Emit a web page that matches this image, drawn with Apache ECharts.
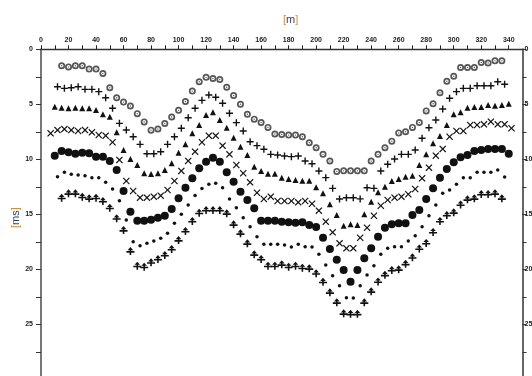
<!DOCTYPE html>
<html>
<head>
<meta charset="utf-8">
<script src="https://cdn.jsdelivr.net/npm/echarts@6/dist/echarts.min.js"></script>
<style>
html,body{margin:0;padding:0;background:#fff;}
#c{width:532px;height:376px;}
</style>
</head>
<body>
<div id="c"></div>
<script>
// Station positions [m]
var stationsA = [10,15,20,25,30,35,40,45,50,55,60,65,70,75,80,85,90,95,100,105,110,115,120,125,130,135,140,145,150,155,160,165,170,175,180,185,190,195,200,205,210,215,220,225,230,235,240,245,250,255,260,265,270,275,280,285,290,295,300,305,310,315,320,325,330,335,340];
var stationsB = [7,12,17,22,27,32,37,42,47,52,57,62,67,72,77,82,87,92,97,102,107,112,117,122,127,132,137,142,147,152,157,162,167,172,177,182,187,192,197,202,207,212,217,222,227,232,237,242,247,252,257,262,267,272,277,282,287,292,297,302,307,312,317,322,327,332,337,342];

// Travel times [ms] (on stationsA)
var ringCircles = [null,1.5,1.6,1.5,1.5,1.8,1.8,2.2,3.5,4.4, 4.8,5.15,5.85,6.6,7.35,7.25,6.75,6.15,5.55,4.75, 3.8,2.95,2.55,2.65,2.75,3.45,4.2,5.0,5.9,6.35, 6.65,7.1,7.7,7.75,7.8,7.8,7.95,8.5,8.95,9.55, 10.15,11.1,11.05,11.05,11.05,11.05,10.15,9.55,8.95,8.35, 7.6,7.5,7.1,6.65,5.6,4.95,3.95,2.9,2.45,1.65, 1.65,1.65,1.2,1.25,1.05,1.05,null];
var triangles = [5.22,5.31,5.36,5.31,5.36,5.36,5.52,5.91,6.13,7.55, 9.15,9.97,10.52,11.27,11.34,11.27,10.97,10.36,9.4,8.64, 7.64,6.88,5.97,5.73,6.43,7.13,8.04,8.85,9.61,10.67, 11.06,11.31,11.31,11.67,11.79,11.88,11.95,11.95,12.55,13.09, 14.09,15.06,16.04,15.9,15.97,15.0,13.85,13.0,12.49,11.97, 11.79,11.58,11.49,10.52,9.55,8.55,7.88,6.88,5.91,5.73, 5.31,5.25,5.25,5.07,5.13,5.07,4.94];
var dots = [9.67,9.25,9.36,9.49,9.4,9.45,9.76,9.76,10.15,10.97, 12.88,14.76,15.58,15.58,15.49,15.31,15.13,14.52,13.55,12.58, 11.73,10.82,10.22,9.85,10.22,11.18,12.04,12.95,13.7,14.45, 15.58,15.58,15.58,15.67,15.73,15.76,15.73,15.97,16.15,17.13, 18.15,19.13,20.06,21.13,20.06,19.0,18.09,17.04,16.22,15.91, 15.82,15.82,15.06,14.61,13.61,12.64,11.67,10.88,10.27,9.82, 9.61,9.25,9.15,9.06,9.06,9.06,9.49];
var arrows = [null,13.49,13.09,13.09,13.4,13.55,13.49,13.79,14.4,15.36, 16.43,18.34,19.67,19.76,19.36,19.06,18.7,18.15,17.34,16.52, 15.61,14.85,14.61,14.61,14.61,14.91,15.91,16.73,17.64,18.64, 19.06,19.67,19.67,19.55,19.76,19.67,19.85,19.91,20.36,21.13, 22.09,23.0,24.0,24.05,24.05,23.0,22.0,21.1,20.5,20.06, 20.0,19.5,18.9,18.1,17.6,16.6,15.6,15.06,14.82,14.1, 13.64,13.55,13.15,13.15,13.09,13.55,null];

// Travel times [ms] (on stationsB)
var crosses = [7.64,7.34,7.25,7.34,7.43,7.34,7.55,7.79,7.85,8.45, 10.06,11.97,12.88,13.49,13.49,13.4,13.31,12.79,11.97,11.06, 10.15,9.31,8.45,7.85,7.85,8.76,9.55,10.52,11.27,12.09, 13.04,13.61,13.4,13.79,13.79,13.79,13.91,13.79,14.04,14.67, 15.67,16.64,17.64,18.09,18.09,17.13,16.22,15.13,14.22,13.7, 13.49,13.4,13.18,12.7,11.73,10.76,9.67,9.06,7.95,7.43, 7.43,6.88,6.88,6.82,6.58,6.82,6.82,7.18];
var pluses = [null,3.4,3.55,3.49,3.4,3.64,3.64,3.85,4.4,5.36, 6.73,7.34,7.95,8.64,9.49,9.49,9.31,8.64,7.95,7.18, 6.22,5.36,4.64,4.15,4.36,4.91,5.82,6.67,7.43,8.4, 8.76,9.09,9.55,9.61,9.7,9.76,9.7,10.15,10.4,11.06, 11.67,12.64,13.61,13.49,13.49,13.6,12.58,12.64,11.06,10.45, 9.97,9.55,9.55,9.15,8.09,7.13,6.43,5.43,4.45,3.85, 3.55,3.55,3.31,3.31,3.31,2.95,3.18,null];
var smallDots = [null,11.58,11.18,11.36,11.43,11.49,11.67,11.67,12.09,12.7, 13.76,15.52,17.49,17.85,17.64,17.43,17.18,16.73,15.82,15.0, 14.15,13.3,12.65,12.27,12.18,12.58,13.61,14.4,15.31,16.13, 17.04,17.73,17.73,17.73,17.79,17.97,17.73,17.94,17.97,18.64, 19.61,20.58,21.49,22.58,22.6,21.49,20.52,19.67,18.64,18.09, 17.94,17.94,17.43,16.95,16.13,15.13,14.15,13.09,12.79,12.27, 11.67,11.67,11.18,11.18,11.18,10.97,11.61,null];

// Tick labels
var xTickLabels = [0,20,40,60,80,100,120,140,160,180,200,220,240,260,280,300,320,340];
var yTickLabels = [0,5,10,15,20,25,30];

function pairs(xs, ys){
  var out = [];
  for (var i = 0; i < xs.length; i++) {
    if (ys[i] !== null && ys[i] !== undefined) out.push([xs[i], ys[i]]);
  }
  return out;
}

var SYM_RING = 'path://M0,5A5,5 0 1,1 10,5A5,5 0 1,1 0,5ZM2.4,5A2.6,2.6 0 1,0 7.6,5A2.6,2.6 0 1,0 2.4,5ZM4,5A1,1 0 1,1 6,5A1,1 0 1,1 4,5Z';
var SYM_PLUS = 'path://M4,0H6V4H10V6H6V10H4V6H0V4H4Z';
var SYM_X = 'path://M1.2,0L5,3.8L8.8,0L10,1.2L6.2,5L10,8.8L8.8,10L5,6.2L1.2,10L0,8.8L3.8,5L0,1.2Z';
var SYM_ARROW = 'path://M5,0L8.5,4H6V5H10V7H6V10H4V7H0V5H4V4H1.5Z';

var chart = echarts.init(document.getElementById('c'), null, {renderer:'canvas'});

var labelFont = {fontSize: 7, fontWeight: 'bold', color: '#222', fontFamily: 'Liberation Sans'};

var option = {
  backgroundColor: '#fff',
  animation: false,
  grid: {left: 41, top: 49.3, width: 481.5, height: 330, containLabel: false, outerBoundsMode: 'none'},
  xAxis: {
    type: 'value', position: 'top', min: 0, max: 350, interval: 10,
    axisLine: {show: true, lineStyle: {color: '#333', width: 1.3}},
    axisTick: {show: true, length: 4, inside: false, lineStyle: {color: '#222', width: 1}},
    axisLabel: Object.assign({margin: 6, showMaxLabel: false, formatter: function(v){ return xTickLabels.indexOf(v) >= 0 ? String(v) : ''; }}, labelFont),
    splitLine: {show: false}
  },
  yAxis: [{
    type: 'value', inverse: true, min: 0, max: 30, interval: 2.5, position: 'left',
    axisLine: {show: true, onZero: false, lineStyle: {color: '#777', width: 2}},
    axisTick: {show: true, length: 5, inside: false, lineStyle: {color: '#333', width: 1}},
    axisLabel: Object.assign({margin: 8, formatter: function(v){ return yTickLabels.indexOf(v) >= 0 ? String(v) : ''; }}, labelFont),
    splitLine: {show: false}
  }, {
    type: 'value', inverse: true, min: 0, max: 30, interval: 2.5, position: 'right',
    axisLine: {show: true, onZero: false, lineStyle: {color: '#666', width: 2}},
    axisTick: {show: true, length: 4, inside: false, lineStyle: {color: '#333', width: 1}},
    axisLabel: Object.assign({margin: 2, formatter: function(v){ return yTickLabels.indexOf(v) >= 0 ? String(v) : ''; }}, labelFont),
    splitLine: {show: false}
  }],
  graphic: [
    {type: 'text', left: 283, top: 14, style: {
      text: '{b|[}{t|m}{b|]}', rich: {
        b: {fill: '#e0892e', fontSize: 11, fontFamily: 'Liberation Sans'},
        t: {fill: '#2a3f6e', fontSize: 11, fontFamily: 'Liberation Sans'}
      }}},
    {type: 'text', x: 10, y: 228, rotation: Math.PI/2, style: {
      text: '{b|[}{t|ms}{b|]}', rich: {
        b: {fill: '#e0892e', fontSize: 11, fontFamily: 'Liberation Sans'},
        t: {fill: '#2a3f6e', fontSize: 11, fontFamily: 'Liberation Sans'}
      }}}
  ],
  series: [
    {name: 'ring', type: 'scatter', symbol: SYM_RING, symbolSize: 7, itemStyle: {color: '#555', opacity: 1}, data: pairs(stationsA, ringCircles)},
    {name: 'plus', type: 'scatter', symbol: SYM_PLUS, symbolSize: 7, itemStyle: {color: '#111', opacity: 1}, data: pairs(stationsB, pluses)},
    {name: 'triangle', type: 'scatter', symbol: 'triangle', symbolSize: 6, itemStyle: {color: '#111', opacity: 1}, data: pairs(stationsA, triangles)},
    {name: 'cross', type: 'scatter', symbol: SYM_X, symbolSize: 7, itemStyle: {color: '#111', opacity: 1}, data: pairs(stationsB, crosses)},
    {name: 'dot', type: 'scatter', symbol: 'circle', symbolSize: 8, itemStyle: {color: '#111', opacity: 1}, data: pairs(stationsA, dots)},
    {name: 'small', type: 'scatter', symbol: 'circle', symbolSize: 3.5, itemStyle: {color: '#111', opacity: 1}, data: pairs(stationsB, smallDots)},
    {name: 'arrow', type: 'scatter', symbol: SYM_ARROW, symbolSize: 8, itemStyle: {color: '#111', opacity: 1}, data: pairs(stationsA, arrows)}
  ]
};
chart.setOption(option);
</script>
</body>
</html>
